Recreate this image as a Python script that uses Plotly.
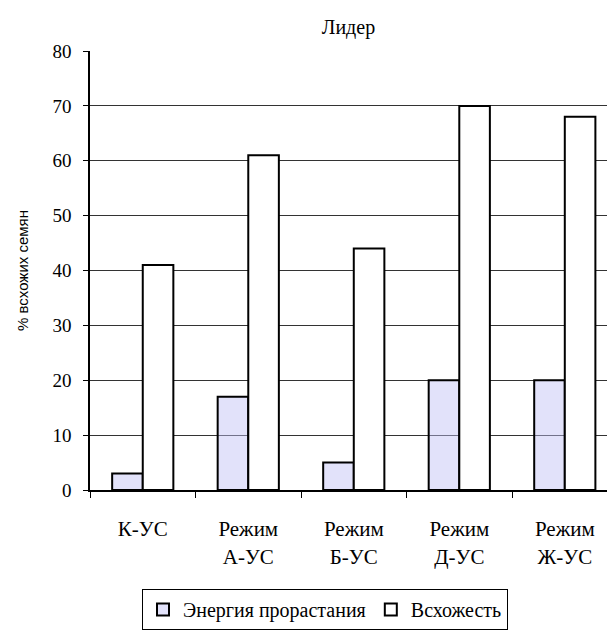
import plotly.graph_objects as go

categories = ["К-УС", "Режим<br>А-УС", "Режим<br>Б-УС", "Режим<br>Д-УС", "Режим<br>Ж-УС"]
energy = [3, 17, 5, 20, 20]          # Энергия прорастания, %
germination = [41, 61, 44, 70, 68]   # Всхожесть, %

serif = "Times New Roman, Liberation Serif, serif"

fig = go.Figure()
fig.add_trace(go.Bar(
    x=categories, y=energy, name="Энергия прорастания",
    marker=dict(color="rgba(190,190,245,0.45)", line=dict(color="black", width=2)),
))
fig.add_trace(go.Bar(
    x=categories, y=germination, name="Всхожесть",
    marker=dict(color="white", line=dict(color="black", width=2)),
))

fig.update_layout(
    width=607, height=640,
    margin=dict(l=90, r=0, t=51, b=150),
    paper_bgcolor="white", plot_bgcolor="white",
    barmode="group", bargap=0.42, bargroupgap=0,
    title=dict(text="Лидер", x=(90 + 607) / 2 / 607, xanchor="center",
               y=1 - 27 / 640, yanchor="middle",
               font=dict(family=serif, size=20, color="black")),
    font=dict(family=serif, color="black"),
    showlegend=True,
    legend=dict(orientation="h", xref="container", x=325 / 607, xanchor="center",
                yref="container", y=1 - 630 / 640, yanchor="bottom",
                bordercolor="black", borderwidth=1,
                font=dict(family=serif, size=20, color="black"),
                itemwidth=30, traceorder="normal"),
)
fig.update_xaxes(
    range=[-0.5, 4.4], tickson="boundaries", ticks="outside", ticklen=6,
    tickcolor="black", showline=True, linecolor="black", linewidth=2,
    ticklabelstandoff=19,
    tickfont=dict(family=serif, size=21, color="black"), showgrid=False,
)
fig.update_yaxes(
    range=[0, 80], dtick=10, ticks="outside", ticklen=5, tickcolor="black",
    showline=True, linecolor="black", linewidth=1.5,
    showgrid=True, gridcolor="#333", gridwidth=1, zeroline=False,
    ticklabelstandoff=8,
    tickfont=dict(family=serif, size=19, color="black"),
    title=dict(text="% всхожих семян", standoff=20,
               font=dict(family="Arial", size=15, color="black")),
)

fig.write_html("out.html")
